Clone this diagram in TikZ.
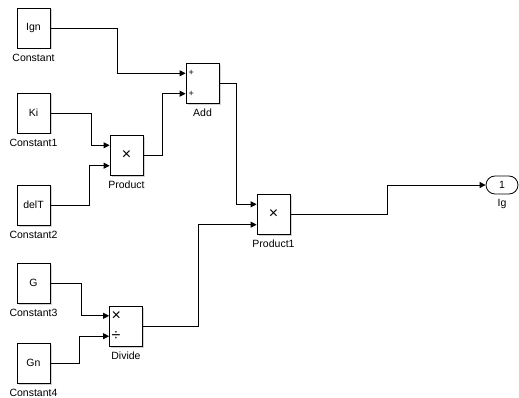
\documentclass[tikz,border=0pt]{standalone}
\usepackage{fontspec}
\setmainfont{Liberation Sans}
\usepackage{tikz}
\usetikzlibrary{arrows,arrows.meta,calc,positioning,shadows}
\tikzset{%
	block/.style    = {draw, rectangle, fill=white, line width=0.8pt, minimum width=33pt, minimum height=40pt, inner sep=0pt,
	                   drop shadow={shadow xshift=1.5pt, shadow yshift=-1.5pt, opacity=0.35}},
	outport/.style  = {draw, rectangle, rounded corners=9pt, fill=white, line width=0.8pt, minimum width=32pt, minimum height=18pt, inner sep=0pt},
	blocklabel/.style = {font=\fontsize{10.5}{12}\selectfont, inner sep=0pt},
	sign/.style     = {inner sep=0pt, font=\fontsize{16}{17}\selectfont},
	waypoint/.style = {coordinate},
}
\begin{document}
\begin{tikzpicture}[x=1pt,y=-1pt,>={Triangle[length=6pt,width=6pt]},line width=0.8pt,font=\fontsize{10.5}{12}\selectfont]
	\useasboundingbox (0,0) rectangle (519,398);
	% constants
	\node [block, label={[blocklabel,label distance=5pt]below:Constant}]  (ign)  at (33.5,28)  {Ign};
	\node [block, label={[blocklabel,label distance=5pt]below:Constant1}] (ki)   at (33.5,113) {Ki};
	\node [block, label={[blocklabel,label distance=5pt]below:Constant2}] (delt) at (33.5,205) {delT};
	\node [block, label={[blocklabel,label distance=5pt]below:Constant3}] (g)    at (33.5,283) {G};
	\node [block, label={[blocklabel,label distance=5pt]below:Constant4}] (gn)   at (33.5,363) {Gn};
	% math blocks
	\node [block, label={[blocklabel,label distance=5pt]below:Add}]      (add)      at (202.5,83.5) {};
	\node [block, label={[blocklabel,label distance=5pt]below:Product}]  (product)  at (126.5,155.5) {\fontsize{16}{17}\selectfont ×};
	\node [block, label={[blocklabel,label distance=5pt]below:Divide}]   (divide)   at (126,326) {};
	\node [block, label={[blocklabel,label distance=5pt]below:Product1}] (product1) at (273.5,214.5) {\fontsize{16}{17}\selectfont ×};
	\node [outport, label={[blocklabel,label distance=4pt]below:Ig}]     (ig)       at (502,185) {1};
	% input ports
	\coordinate (add-1) at ($(add.north west)!.25!(add.south west)$);
	\coordinate (add-2) at ($(add.north west)!.75!(add.south west)$);
	\coordinate (product-1) at ($(product.north west)!.25!(product.south west)$);
	\coordinate (product-2) at ($(product.north west)!.75!(product.south west)$);
	\coordinate (divide-1) at ($(divide.north west)!.25!(divide.south west)$);
	\coordinate (divide-2) at ($(divide.north west)!.75!(divide.south west)$);
	\coordinate (product1-1) at ($(product1.north west)!.25!(product1.south west)$);
	\coordinate (product1-2) at ($(product1.north west)!.75!(product1.south west)$);
	% port signs
	\node [right=2.5pt of add-1, inner sep=0pt, font=\fontsize{9}{10}\selectfont] {+};
	\node [right=2.5pt of add-2, inner sep=0pt, font=\fontsize{9}{10}\selectfont] {+};
	\node [sign, right=2pt of divide-1] {×};
	\node [sign, right=2pt of divide-2] {÷};
	% signals
	\draw[->] (ign.east) -| ([xshift=-68pt]add-1) -- (add-1);
	\draw[->] (ki.east) -| ([xshift=-18pt]product-1) -- (product-1);
	\draw[->] (delt.east) -| ([xshift=-20pt]product-2) -- (product-2);
	\draw[->] (product.east) -| ([xshift=-23pt]add-2) -- (add-2);
	\draw[->] (add.east) -| ([xshift=-20pt]product1-1) -- (product1-1);
	\draw[->] (g.east) -| ([xshift=-28pt]divide-1) -- (divide-1);
	\draw[->] (gn.east) -| ([xshift=-30pt]divide-2) -- (divide-2);
	\draw[->] (divide.east) -| ([xshift=-58pt]product1-2) -- (product1-2);
	\draw[->] (product1.east) -| ([xshift=-98pt]ig.west) -- (ig.west);
\end{tikzpicture}
\end{document}
